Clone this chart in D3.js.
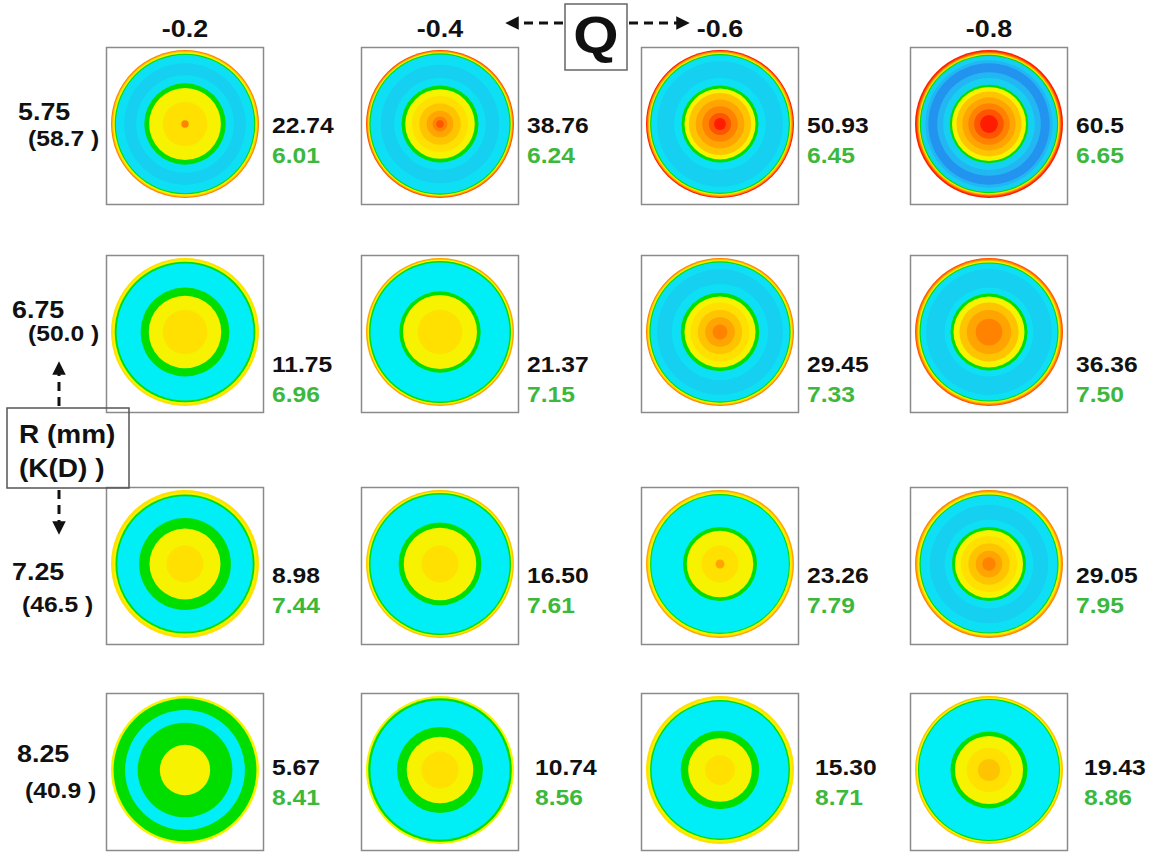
<!DOCTYPE html>
<html>
<head>
<meta charset="utf-8">
<script src="https://cdn.jsdelivr.net/npm/d3@7"></script>
<style>
  body { margin: 0; background: #fff; }
  text { font-family: "Liberation Sans", Arial, sans-serif; font-weight: bold; }
</style>
</head>
<body>
<div id="chart"></div>
<script>
const width = 1158;
const height = 854;

// Q values (columns) and R / K values (rows)
const qValues = ["-0.2", "-0.4", "-0.6", "-0.8"];
const radii = ["5.75", "6.75", "7.25", "8.25"];
const powers = ["(58.7 )", "(50.0 )", "(46.5 )", "(40.9 )"];

// black number beside each map, and green number below it
const blackValues = [
  ["22.74", "38.76", "50.93", "60.5"],
  ["11.75", "21.37", "29.45", "36.36"],
  ["8.98", "16.50", "23.26", "29.05"],
  ["5.67", "10.74", "15.30", "19.43"],
];
const greenValues = [
  ["6.01", "6.24", "6.45", "6.65"],
  ["6.96", "7.15", "7.33", "7.50"],
  ["7.44", "7.61", "7.79", "7.95"],
  ["8.41", "8.56", "8.71", "8.86"],
];

// radial profile of every map: [outer radius fraction, colour level], outside -> in
const profiles = [
  [
    [[1, 11], [0.985, 9], [0.97, 7], [0.95, 6], [0.935, 4], [0.82, 3], [0.66, 4], [0.55, 6], [0.485, 7], [0.3, 8], [0.05, 11]],
    [[1, 12], [0.985, 10], [0.97, 7], [0.955, 6], [0.94, 4], [0.8, 3], [0.62, 4], [0.52, 6], [0.47, 7], [0.38, 8], [0.28, 9], [0.18, 10], [0.1, 11], [0.05, 12]],
    [[1, 13], [0.985, 11], [0.97, 9], [0.955, 7], [0.945, 6], [0.93, 4], [0.85, 3], [0.62, 4], [0.52, 6], [0.48, 7], [0.42, 9], [0.33, 10], [0.24, 11], [0.15, 12], [0.08, 13]],
    [[1, 13], [0.98, 12], [0.965, 10], [0.95, 8], [0.935, 6], [0.92, 3], [0.86, 2], [0.82, 1], [0.7, 2], [0.62, 3], [0.53, 6], [0.5, 7], [0.44, 9], [0.36, 10], [0.28, 11], [0.2, 12], [0.12, 13]],
  ],
  [
    [[1, 8], [0.975, 7], [0.95, 6], [0.925, 5], [0.6, 6], [0.49, 7], [0.3, 8]],
    [[1, 10], [0.98, 7], [0.96, 6], [0.94, 5], [0.55, 6], [0.5, 7], [0.3, 8]],
    [[1, 11], [0.985, 9], [0.97, 7], [0.955, 6], [0.94, 4], [0.85, 3], [0.65, 4], [0.53, 6], [0.48, 7], [0.4, 8], [0.3, 9], [0.2, 10], [0.1, 11]],
    [[1, 12], [0.985, 11], [0.97, 9], [0.955, 7], [0.94, 6], [0.925, 4], [0.85, 3], [0.68, 3], [0.6, 4], [0.52, 6], [0.48, 7], [0.4, 9], [0.3, 10], [0.18, 11]],
  ],
  [
    [[1, 8], [0.965, 7], [0.94, 6], [0.915, 5], [0.62, 6], [0.48, 7], [0.25, 8]],
    [[1, 9], [0.98, 7], [0.96, 6], [0.94, 5], [0.56, 6], [0.49, 7], [0.25, 8]],
    [[1, 10], [0.98, 8], [0.96, 7], [0.945, 6], [0.93, 5], [0.5, 6], [0.45, 7], [0.25, 8], [0.06, 10]],
    [[1, 11], [0.985, 10], [0.97, 8], [0.955, 7], [0.94, 6], [0.925, 4], [0.8, 3], [0.6, 4], [0.5, 6], [0.46, 7], [0.38, 8], [0.28, 9], [0.18, 10], [0.09, 11]],
  ],
  [
    [[1, 7], [0.965, 6], [0.81, 5], [0.64, 6], [0.34, 7]],
    [[1, 7], [0.97, 6], [0.94, 5], [0.58, 6], [0.45, 7], [0.25, 8]],
    [[1, 8], [0.97, 7], [0.945, 6], [0.925, 5], [0.53, 6], [0.43, 7], [0.2, 8]],
    [[1, 9], [0.98, 7], [0.96, 6], [0.945, 5], [0.52, 6], [0.46, 7], [0.3, 8], [0.15, 9]],
  ],
];

// jet-like level colours
const palette = [
  "#1878ec", "#2094f0", "#22b6f2", "#16d0f2", "#0ae0f4", "#00eef6",
  "#00de00", "#f6f200", "#ffe000", "#ffc400", "#ffa400", "#ff8200", "#ff5400", "#ff1e00",
];

const svg = d3
  .select("#chart")
  .append("svg")
  .attr("width", width)
  .attr("height", height);

const xScale = d3.scaleOrdinal(qValues, [185, 440, 720, 989]);
const yScale = d3.scaleOrdinal(radii, [126, 334, 566, 772]);
const rScale = d3.scaleLinear().domain([0, 1]).range([0, 74]);
const colorScale = d3.scaleOrdinal(d3.range(palette.length), palette);
const boxSize = 157;
const stretch = 1.12;

const defs = svg.append("defs");
defs.append("filter").attr("id", "soft")
  .append("feGaussianBlur").attr("stdDeviation", 0.5);
defs.append("marker")
  .attr("id", "head")
  .attr("viewBox", "0 0 10 10")
  .attr("refX", 5).attr("refY", 5)
  .attr("markerWidth", 4.5).attr("markerHeight", 4.5)
  .attr("orient", "auto")
  .append("path")
  .attr("d", "M0,0L10,5L0,10Z")
  .attr("fill", "#111");

function label(x, y, str, size, fill, anchor) {
  svg.append("text")
    .attr("transform", `translate(${x},${y}) scale(${stretch},1)`)
    .attr("text-anchor", anchor || "start")
    .attr("font-size", size)
    .attr("fill", fill || "#111")
    .text(str);
}

// cells
radii.forEach((r, i) => {
  qValues.forEach((q, j) => {
    const cx = xScale(q);
    const cy = yScale(r);
    const cell = svg.append("g").attr("transform", `translate(${cx},${cy})`);

    cell.append("rect")
      .attr("x", -boxSize / 2)
      .attr("y", -boxSize / 2)
      .attr("width", boxSize)
      .attr("height", boxSize)
      .attr("fill", "#fff")
      .attr("stroke", "#8a8a8a")
      .attr("stroke-width", 1.5);

    cell.append("g")
      .attr("transform", "translate(0,-2)")
      .attr("filter", "url(#soft)")
      .selectAll("circle")
      .data(profiles[i][j])
      .enter()
      .append("circle")
      .attr("r", (d) => rScale(d[0]))
      .attr("fill", (d) => colorScale(d[1]));

    const dx = i === 3 && j > 0 ? 95 : 87;
    const dy = [7, 38, 17, 3][i];
    label(cx + dx, cy + dy, blackValues[i][j], 22, "#111");
    label(cx + dx, cy + dy + 30, greenValues[i][j], 22, "#3cb83c");
  });
});

// column headers
qValues.forEach((q) => label(xScale(q), 37, q, 24, "#111", "middle"));

// Q box with arrows
svg.append("rect")
  .attr("x", 565).attr("y", 4)
  .attr("width", 62).attr("height", 66)
  .attr("fill", "#fff")
  .attr("stroke", "#666")
  .attr("stroke-width", 1.5);
label(596, 53, "Q", 52, "#111", "middle");

const arrows = [
  [563, 23, 512, 23],
  [629, 23, 683, 23],
  [59, 406, 59, 368],
  [59, 490, 59, 528],
];
svg.selectAll(".arrow")
  .data(arrows)
  .enter()
  .append("line")
  .attr("class", "arrow")
  .attr("x1", (d) => d[0]).attr("y1", (d) => d[1])
  .attr("x2", (d) => d[2]).attr("y2", (d) => d[3])
  .attr("stroke", "#111")
  .attr("stroke-width", 3)
  .attr("stroke-dasharray", "9,6")
  .attr("marker-end", "url(#head)");

// row labels
const leftX = [[18, 28], [12, 28], [12, 22], [17, 25]];
const leftDy = [[-6, 20], [-16, 7], [14, 46], [-10, 26]];
radii.forEach((r, i) => {
  label(leftX[i][0], yScale(r) + leftDy[i][0], r, 24, "#111");
  label(leftX[i][1], yScale(r) + leftDy[i][1], powers[i], 22, "#111");
});

// R (mm) / K(D) box
svg.append("rect")
  .attr("x", 7).attr("y", 408)
  .attr("width", 122).attr("height", 80)
  .attr("fill", "none")
  .attr("stroke", "#555")
  .attr("stroke-width", 1.5);
label(19, 443, "R (mm)", 25, "#111");
label(19, 477, "(K(D) )", 25, "#111");
</script>
</body>
</html>
